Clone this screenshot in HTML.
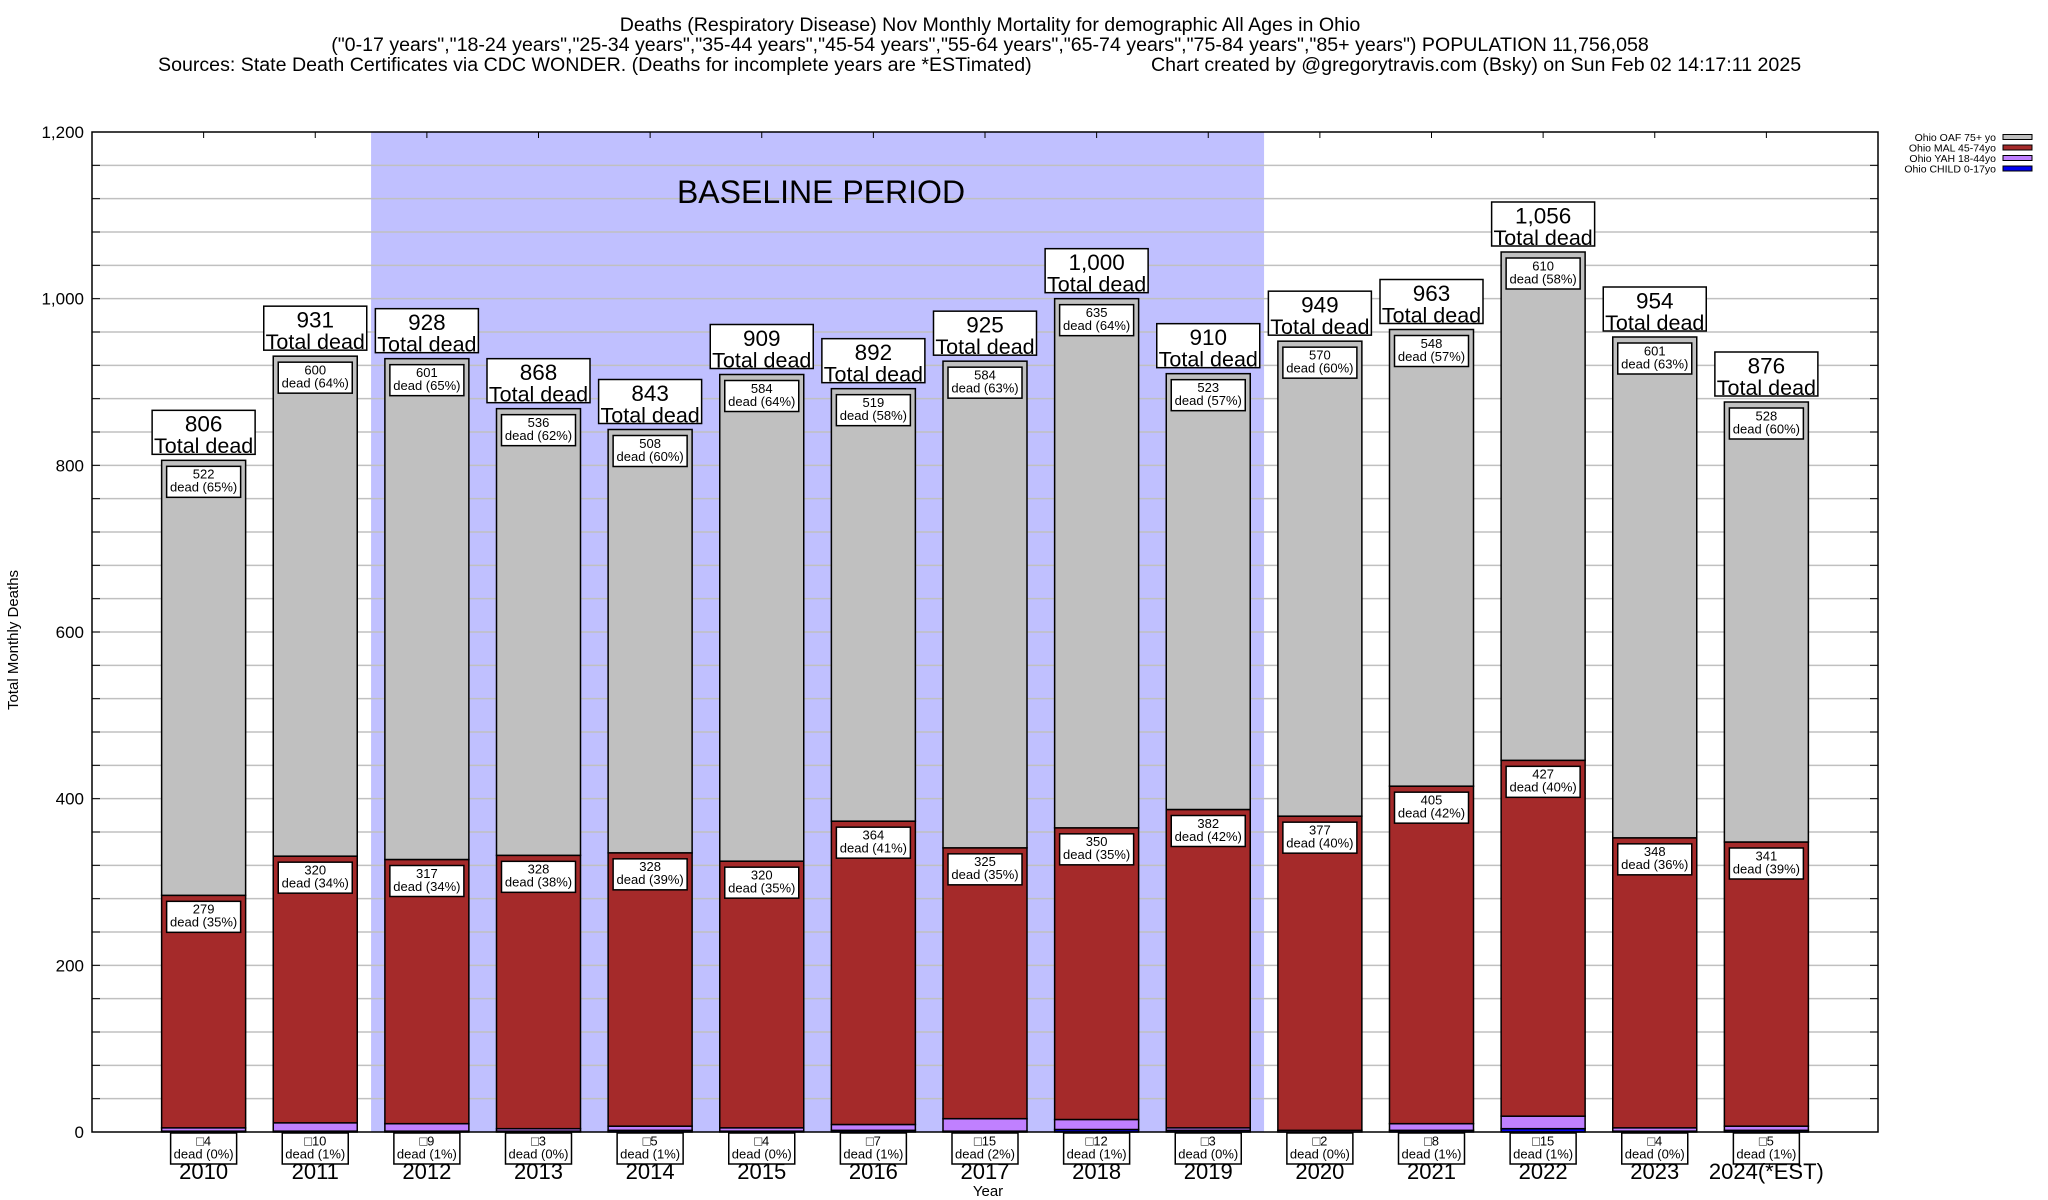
<!DOCTYPE html>
<html><head><meta charset="utf-8">
<style>
html,body{margin:0;padding:0;background:#fff;}
svg{display:block;font-family:"Liberation Sans",Arial,sans-serif;}
</style></head>
<body>
<svg id="chart" width="2048" height="1200" viewBox="0 0 2048 1200" xmlns="http://www.w3.org/2000/svg">
<g font-size="19.6" fill="#000">
<text x="990" y="31" text-anchor="middle">Deaths (Respiratory Disease) Nov Monthly Mortality for demographic All Ages in Ohio</text>
<text x="990" y="51" text-anchor="middle">("0-17 years","18-24 years","25-34 years","35-44 years","45-54 years","55-64 years","65-74 years","75-84 years","85+ years") POPULATION 11,756,058</text>
<text x="158" y="71">Sources: State Death Certificates via CDC WONDER. (Deaths for incomplete years are *ESTimated)</text>
<text x="1151" y="71">Chart created by @gregorytravis.com (Bsky) on Sun Feb 02 14:17:11 2025</text>
</g>
<g id="plot"></g>
<text x="18" y="640" font-size="15" text-anchor="middle" transform="rotate(-90 18 640)">Total Monthly Deaths</text>
<text x="988" y="1196" font-size="15" text-anchor="middle">Year</text>
<g id="legend"></g>
</svg>
<script>
const years = ["2010","2011","2012","2013","2014","2015","2016","2017","2018","2019","2020","2021","2022","2023","2024(*EST)"];
const totals = [806,931,928,868,843,909,892,925,1000,910,949,963,1056,954,876];
const oaf = [522,600,601,536,508,584,519,584,635,523,570,548,610,601,528];
const mal = [279,320,317,328,328,320,364,325,350,382,377,405,427,348,341];
const yah = [4,10,9,3,5,4,7,15,12,3,2,8,15,4,5];
const child = [1,1,1,1,2,1,2,1,3,2,0,2,4,1,2];
const oafPct = ["65%","64%","65%","62%","60%","64%","58%","63%","64%","57%","60%","57%","58%","63%","60%"];
const malPct = ["35%","34%","34%","38%","39%","35%","41%","35%","35%","42%","40%","42%","40%","36%","39%"];
const yahPct = ["0%","1%","1%","0%","1%","0%","1%","2%","1%","0%","0%","1%","1%","0%","1%"];
const yTicks = [0,200,400,600,800,1000,1200];
const baselineStart = 2, baselineEnd = 9;

const NS="http://www.w3.org/2000/svg";
const L=92,R=1878,T=132,B=1132,YMAX=1200;
const slot=(R-L)/16, bw=84;
const y=v=>B-(v/YMAX)*(B-T);
const xc=i=>L+slot*(i+1);
const plot=document.getElementById('plot');
function mk(tag,attrs,parent,text){const e=document.createElementNS(NS,tag);for(const k in attrs)e.setAttribute(k,attrs[k]);if(text!==undefined)e.textContent=text;(parent||plot).appendChild(e);return e;}
const fmt=v=>v.toLocaleString('en-US');

const sh=mk('rect',{x:L+slot*(baselineStart+0.5),y:T,width:slot*(baselineEnd-baselineStart+1),height:B-T,fill:'#c0c0ff'});



for(let v=40;v<YMAX;v+=40){
  const g=mk('line',{x1:L,x2:R,y1:y(v),y2:y(v),stroke:'#c0c0c0','stroke-width':1.5});
  
  
  mk('line',{x1:L,x2:L+8,y1:y(v),y2:y(v),stroke:'#000','stroke-width':1});
  mk('line',{x1:R-8,x2:R,y1:y(v),y2:y(v),stroke:'#000','stroke-width':1});
}
const bt=mk('text',{x:821,y:203,'font-size':32,'text-anchor':'middle'},plot,'BASELINE PERIOD');


yTicks.forEach(v=>{
  const t=mk('text',{x:84,y:y(v)+6,'font-size':17,'text-anchor':'end'},plot,fmt(v));
  
  
});

function box(cx,top,lines,sizes,w,h,name){
  const g=mk('g',{});
  
  
  mk('rect',{x:cx-w/2,y:top,width:w,height:h,fill:'#fff',stroke:'#000','stroke-width':1.5},g);
  let yy=top;
  lines.forEach((s,k)=>{yy+=sizes[k]*(k==0?0.95:1.0);mk('text',{x:cx,y:yy,'font-size':sizes[k],'text-anchor':'middle'},g,s);});
}

years.forEach((yr,i)=>{
  const cx=xc(i), x0=cx-bw/2;
  const segs=[[child[i],'#0000ee','bar-child'],[yah[i],'#c080ff','bar-yah'],[mal[i],'#a52a2a','bar-mal'],[oaf[i],'#c0c0c0','bar-oaf']];
  let base=0;
  segs.forEach(s=>{
    if(s[0]>0){
      const r=mk('rect',{x:x0,y:y(base+s[0]),width:bw,height:y(base)-y(base+s[0]),fill:s[1],stroke:'#000','stroke-width':1.5});
      
      
    }
    base+=s[0];
  });
  const top=y(totals[i]);
  box(cx,top-50,[fmt(totals[i]),'Total dead'],[22.5,21.5],103,44,'total-label');
  box(cx,top+6,[String(oaf[i]),'dead ('+oafPct[i]+')'],[13,13],74,31,'oaf-label');
  const mt=y(child[i]+yah[i]+mal[i]);
  box(cx,mt+6,[String(mal[i]),'dead ('+malPct[i]+')'],[13,13],74,31,'mal-label');
  box(cx,B+1,['\u25A1'+yah[i],'dead ('+yahPct[i]+')'],[13,13],66,31,'yah-label');
  const yl=mk('text',{x:cx,y:1179,'font-size':22,'text-anchor':'middle'},plot,yr);
  
  
  mk('line',{x1:cx,x2:cx,y1:T,y2:T+6,stroke:'#000','stroke-width':1});
});
const fr=mk('rect',{x:L,y:T,width:R-L,height:B-T,fill:'none',stroke:'#000','stroke-width':1.5});



const leg=document.getElementById('legend');
const legNames=["Ohio OAF 75+ yo","Ohio MAL 45-74yo","Ohio YAH 18-44yo","Ohio CHILD 0-17yo"];
const legCols=['#c0c0c0','#a52a2a','#c080ff','#0000ee'];
legNames.forEach((n,k)=>{
  const yy=137+k*10.5;
  const g=mk('g',{},leg);
  
  
  mk('text',{x:1996,y:yy+4,'font-size':10.5,'text-anchor':'end'},g,n);
  mk('rect',{x:2003,y:yy-2.5,width:29,height:5,fill:legCols[k],stroke:'#000','stroke-width':1},g);
});
</script>
</body></html>
